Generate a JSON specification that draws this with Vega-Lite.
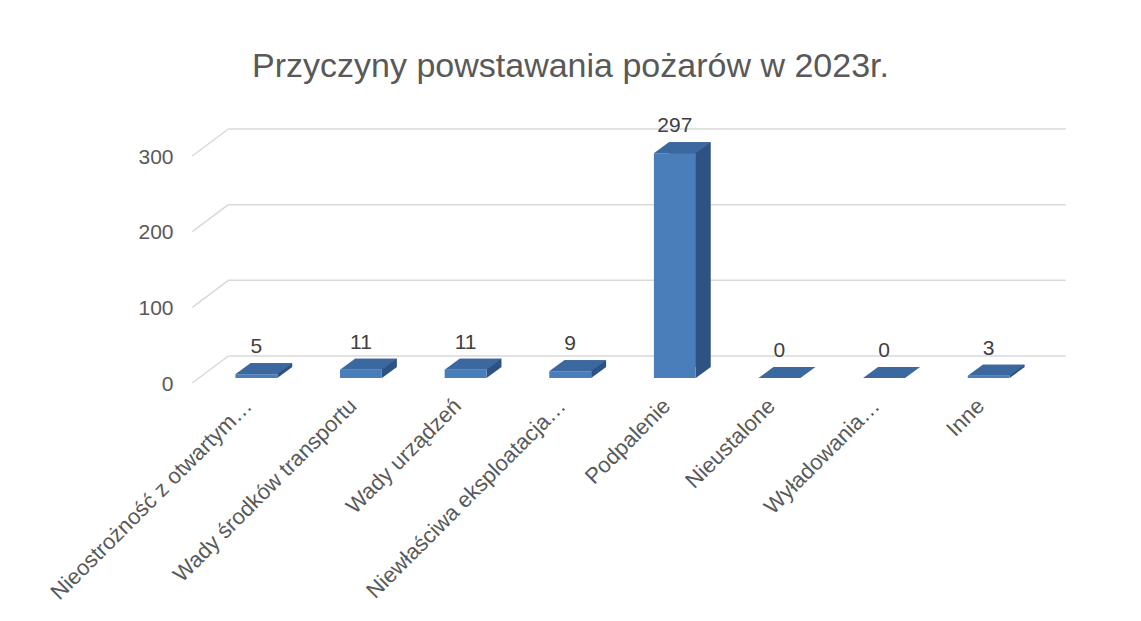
{
  "$schema": "https://vega.github.io/schema/vega-lite/v6.json",
  "width": 837,
  "height": 227,
  "autosize": {"type": "none"},
  "padding": {"left": 204, "top": 151, "right": 100, "bottom": 243},
  "background": "white",
  "config": {
    "view": {"stroke": null},
    "font": "Liberation Sans",
    "axisX": {"title": null, "domain": false, "ticks": false, "grid": false, "labelAngle": -45, "labelAlign": "right", "labelBaseline": "middle", "labelPadding": 24, "labelOffset": -8, "labelFontSize": 22, "labelColor": "#595959", "labelLimit": 0, "labelOverlap": false},
    "axisY": {"title": null, "domain": false, "ticks": false, "grid": false, "labelPadding": 31, "labelOffset": 6, "labelFontSize": 21, "labelColor": "#595959"}
  },
  "title": {"text": "Przyczyny powstawania pożarów w 2023r.", "fontSize": 34, "font": "Liberation Sans", "fontWeight": "normal", "color": "#595959", "anchor": "middle", "dx": -52, "baseline": "alphabetic", "offset": 4},
  "datasets": {
    "causes": [
      {"cause": "Nieostrożność z otwartym…", "count": 5},
      {"cause": "Wady środków transportu", "count": 11},
      {"cause": "Wady urządzeń", "count": 11},
      {"cause": "Niewłaściwa eksploatacja…", "count": 9},
      {"cause": "Podpalenie", "count": 297},
      {"cause": "Nieustalone", "count": 0},
      {"cause": "Wyładowania…", "count": 0},
      {"cause": "Inne", "count": 3}
    ],
    "grid": [{"v": 0}, {"v": 100}, {"v": 200}, {"v": 300}]
  },
  "layer": [
    {
      "data": {"name": "grid"},
      "mark": {"type": "rule", "color": "#d9d9d9", "strokeWidth": 1.5, "xOffset": -28, "x2Offset": 77, "yOffset": -22, "y2Offset": -22},
      "encoding": {
        "x": {"datum": "Nieostrożność z otwartym…", "type": "nominal", "scale": {"domain": ["Nieostrożność z otwartym…", "Wady środków transportu", "Wady urządzeń", "Niewłaściwa eksploatacja…", "Podpalenie", "Nieustalone", "Wyładowania…", "Inne"], "paddingInner": 0.6, "paddingOuter": 0.3}},
        "x2": {"datum": "Inne"},
        "y": {"field": "v", "type": "quantitative", "scale": {"domain": [0, 300], "nice": false}, "axis": {"values": [0, 100, 200, 300]}},
        "y2": {"field": "v"}
      }
    },
    {
      "data": {"name": "grid"},
      "mark": {"type": "rule", "color": "#d9d9d9", "strokeWidth": 1.5, "xOffset": -64, "x2Offset": -28, "yOffset": 5, "y2Offset": -22},
      "encoding": {
        "x": {"datum": "Nieostrożność z otwartym…", "type": "nominal"},
        "x2": {"datum": "Nieostrożność z otwartym…"},
        "y": {"field": "v", "type": "quantitative"},
        "y2": {"field": "v"}
      }
    },
    {
      "data": {"name": "causes"},
      "mark": {"type": "bar", "color": "#2e5282", "xOffset": 15, "yOffset": -11, "y2Offset": -11},
      "encoding": {
        "x": {"field": "cause", "type": "nominal", "sort": null},
        "y": {"field": "count", "type": "quantitative"}
      }
    },
    {
      "data": {"name": "causes"},
      "transform": [{"filter": "datum.count > 0"}],
      "mark": {"type": "point", "filled": true, "opacity": 1, "color": "#2e5282", "strokeWidth": 0, "size": 5184, "shape": "M 0.5833 -0.3056 L 0.5833 0 L 1 -0.3056 Z"},
      "encoding": {
        "x": {"field": "cause", "type": "nominal", "sort": null},
        "y": {"datum": 0, "type": "quantitative"}
      }
    },
    {
      "data": {"name": "causes"},
      "mark": {"type": "bar", "color": "#4a7ebb"},
      "encoding": {
        "x": {"field": "cause", "type": "nominal", "sort": null},
        "y": {"field": "count", "type": "quantitative"}
      }
    },
    {
      "data": {"name": "causes"},
      "mark": {"type": "point", "filled": true, "opacity": 1, "color": "#3b689f", "strokeWidth": 0, "size": 5184, "shape": "M -0.5833 0 L 0.5833 0 L 1 -0.3056 L -0.1667 -0.3056 Z"},
      "encoding": {
        "x": {"field": "cause", "type": "nominal", "sort": null},
        "y": {"field": "count", "type": "quantitative"}
      }
    },
    {
      "data": {"name": "causes"},
      "mark": {"type": "text", "fontSize": 21, "color": "#404040", "baseline": "alphabetic", "dy": -21},
      "encoding": {
        "x": {"field": "cause", "type": "nominal", "sort": null},
        "y": {"field": "count", "type": "quantitative"},
        "text": {"field": "count", "type": "quantitative"}
      }
    }
  ]
}
